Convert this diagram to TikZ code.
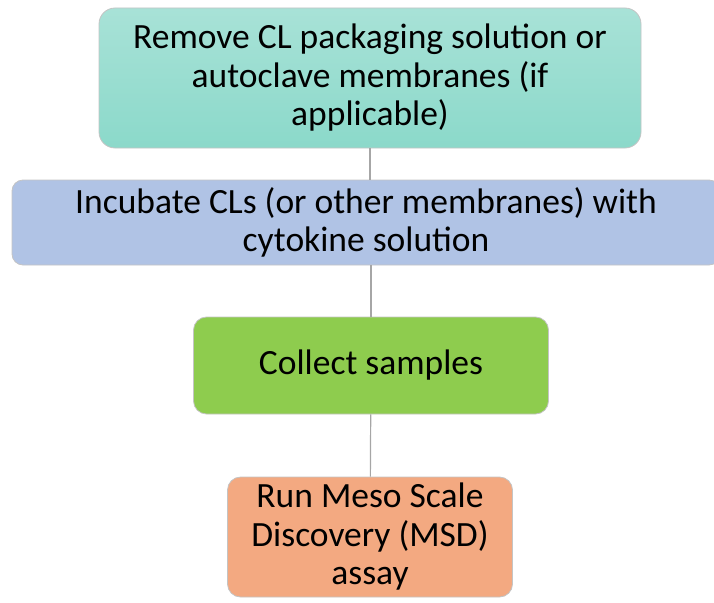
\documentclass[tikz,border=0pt]{standalone}
\usepackage{fontspec}
\setmainfont{Carlito}
\usepackage{tikz}
\usetikzlibrary{positioning}

\definecolor{tealtop}{HTML}{A8E2D7}
\definecolor{tealbot}{HTML}{8BD9CA}
\definecolor{incblue}{HTML}{B0C3E5}
\definecolor{colgreen}{HTML}{8ECC4E}
\definecolor{msdorange}{HTML}{F3A981}
\definecolor{boxedge}{HTML}{C4C4C4}
\definecolor{linkgray}{HTML}{A6A6A6}

\begin{document}
\begin{tikzpicture}[
    x=1pt, y=-1pt,
    every node/.style={font=\fontsize{35.5}{38.5}\selectfont},
    removebox/.style={
      draw=boxedge, line width=0.8pt,
      top color=tealtop, bottom color=tealbot,
      rounded corners=16pt, align=center,
      minimum width=542pt, minimum height=140pt, inner sep=0pt
    },
    incubatebox/.style={
      draw=boxedge, line width=0.8pt,
      fill=incblue,
      rounded corners=11pt, align=center,
      minimum width=708pt, minimum height=85pt, inner sep=0pt
    },
    collectbox/.style={
      draw=boxedge, line width=0.8pt,
      fill=colgreen,
      rounded corners=13pt, align=center,
      minimum width=355pt, minimum height=97pt, inner sep=0pt
    },
    assaybox/.style={
      draw=boxedge, line width=0.8pt,
      fill=msdorange,
      rounded corners=13pt, align=center,
      minimum width=285pt, minimum height=120pt, inner sep=0pt
    },
    link/.style={draw=linkgray, line width=1.2pt}
  ]

    \clip (0,0) rectangle (714,602);

    \node[removebox] (remove) at (370,78)
      {Remove CL packaging solution or\\autoclave membranes (if\\applicable)};
    \node[incubatebox] (incubate) at (366,222.5)
      {Incubate CLs (or other membranes) with\\cytokine solution};
    \node[collectbox] (collect) at (371,365.5) {Collect samples};
    \node[assaybox] (assay) at (370,537)
      {Run Meso Scale\\Discovery (MSD)\\assay};

    \draw[link] (remove) -- (remove |- incubate.north);
    \draw[link] (incubate.south -| collect) -- (collect);
    \draw[link] (collect) -- (assay);

  \end{tikzpicture}
\end{document}
